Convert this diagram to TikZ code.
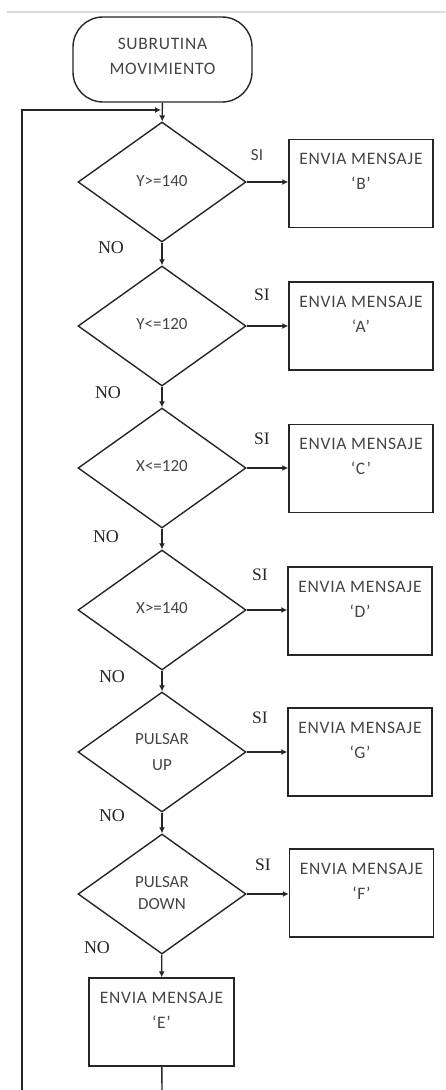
\documentclass[tikz,border=0pt]{standalone}
\usepackage{fontspec}
\usetikzlibrary{shapes.geometric,arrows.meta}
\newfontfamily\boxfont{Carlito}
\newfontfamily\widefont[LetterSpace=4]{Carlito}
\newfontfamily\labfont{Liberation Serif}
\definecolor{ink}{HTML}{262626}
\definecolor{txt}{HTML}{444444}
\begin{document}
\begin{tikzpicture}[x=1pt,y=-1pt,
  line width=1.4pt, draw=ink,
  flow/.style={draw=ink, -{Latex[length=6pt,width=6pt]}},
  terminal/.style={draw=ink, rectangle, rounded corners=30pt, minimum width=179pt, minimum height=85pt, inner sep=0pt},
  decision/.style={draw=ink, diamond, minimum width=168pt, minimum height=120pt, inner sep=0pt,
    align=center, text=txt, font=\boxfont\fontsize{17}{26}\selectfont},
  msgbox/.style={draw=ink, rectangle, minimum width=144pt, minimum height=88pt, inner sep=0pt},
  msgtext/.style={anchor=north, align=center, text=txt, inner sep=0pt, font=\widefont\fontsize{17.5}{25}\selectfont},
  yes/.style={text=ink, inner sep=0pt, font=\labfont\fontsize{17.5}{17.5}\selectfont},
  no/.style={text=ink, inner sep=0pt, font=\labfont\fontsize{18}{18}\selectfont}]
\useasboundingbox (0,0) rectangle (445,1090);

% thin rule along the top
\draw[draw=black!14, line width=2pt] (7,12) -- (445,12);

% start of the subroutine
\node[terminal] (start) at (162.5,59.5) {};
\node[msgtext] (starttxt) at (162.5,37) {SUBRUTINA\\MOVIMIENTO};

% chain of decisions
\node[decision] (d1) at (162,182) {\raisebox{3pt}{Y>=140}};
\node[decision] (d2) at (162,326) {\raisebox{5pt}{Y<=120}};
\node[decision] (d3) at (162,468) {\raisebox{4pt}{X<=120}};
\node[decision] (d4) at (162,610) {\raisebox{5pt}{X>=140}};
\node[decision] (d5) at (162,752) {PULSAR\\UP};
\node[decision] (d6) at (162,894) {\raisebox{2pt}{\shortstack{PULSAR\\[8pt]DOWN}}};

% messages sent on each YES branch
\node[msgbox] (mb) at (361,183.5) {};
\node[msgbox] (ma) at (361,326) {};
\node[msgbox] (mc) at (361,468.5) {};
\node[msgbox] (md) at (360,611) {};
\node[msgbox] (mg) at (360,752) {};
\node[msgbox] (mf) at (361.5,893) {};
\node[msgbox, minimum width=145pt] (me) at (161.5,1022) {};

\node[msgtext] (tb) at ([yshift=-14pt]mb.north) {ENVIA MENSAJE\\‘B’};
\node[msgtext] (ta) at ([yshift=-14pt]ma.north) {ENVIA MENSAJE\\‘A’};
\node[msgtext] (tc) at ([yshift=-14pt]mc.north) {ENVIA MENSAJE\\‘C’};
\node[msgtext] (td) at ([yshift=-14pt]md.north) {ENVIA MENSAJE\\‘D’};
\node[msgtext] (tg) at ([yshift=-14pt]mg.north) {ENVIA MENSAJE\\‘G’};
\node[msgtext] (tf) at ([yshift=-14pt]mf.north) {ENVIA MENSAJE\\‘F’};
\node[msgtext] (te) at ([yshift=-14pt]me.north) {ENVIA MENSAJE\\‘E’};

% branch labels
\node[yes, text=txt, font=\boxfont\fontsize{17}{17}\selectfont] (s1) at (257,155) {SI};
\node[yes] (s2) at (262,295) {SI};
\node[yes] (s3) at (262,439) {SI};
\node[yes] (s4) at (260,575) {SI};
\node[yes] (s5) at (260,718) {SI};
\node[yes] (s6) at (263,865) {SI};

\node[no] (n1) at (111,248) {NO};
\node[no] (n2) at (108,393) {NO};
\node[no] (n3) at (106,537) {NO};
\node[no] (n4) at (112,677) {NO};
\node[no] (n5) at (112,816) {NO};
\node[no] (n6) at (97,948) {NO};

% connectors
\draw[flow] (start) -- (d1);
\draw[flow] (d1) -- (d2);
\draw[flow] (d2) -- (d3);
\draw[flow] (d3) -- (d4);
\draw[flow] (d4) -- (d5);
\draw[flow] (d5) -- (d6);
\draw[flow] (d6) -- (me);

\draw[flow] (d1.east) -- (d1.east -| mb.west);
\draw[flow] (d2.east) -- (d2.east -| ma.west);
\draw[flow] (d3.east) -- (d3.east -| mc.west);
\draw[flow] (d4.east) -- (d4.east -| md.west);
\draw[flow] (d5.east) -- (d5.east -| mg.west);
\draw[flow] (d6.east) -- (d6.east -| mf.west);

% return path back to the first test
\coordinate (ebot) at (162,1090);
\coordinate (lbot) at (22,1090);
\coordinate (ltop) at (22,110);
\coordinate (join) at (161,110);
\draw (me) -- (ebot);
\draw[flow] (lbot) -- (ltop) -- (join);
\end{tikzpicture}
\end{document}
